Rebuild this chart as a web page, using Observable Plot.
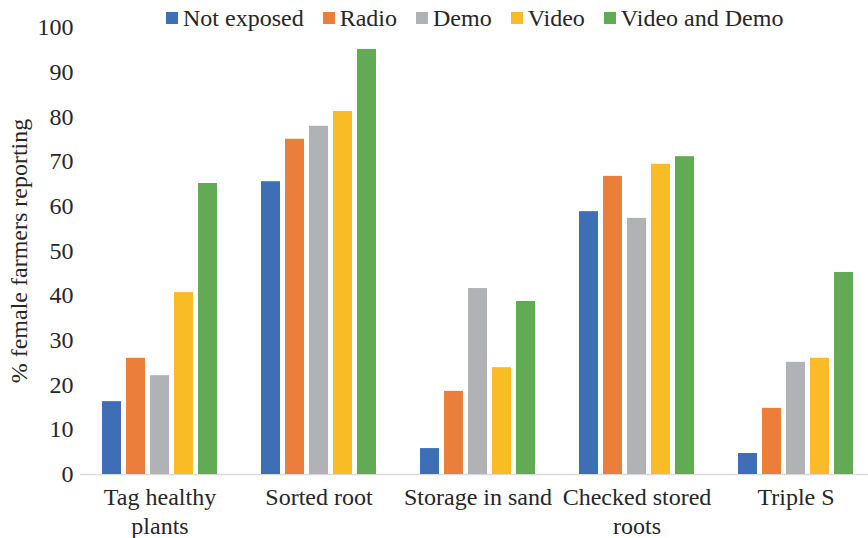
<!DOCTYPE html>
<html><head><meta charset="utf-8">
<script src="https://cdn.jsdelivr.net/npm/d3@7"></script>
<script src="https://cdn.jsdelivr.net/npm/@observablehq/plot@0.6"></script>
<style>
body{margin:0;background:#fff;}
#wrap{position:relative;width:868px;height:538px;font-family:"Liberation Serif","Times New Roman",serif;color:#262626;}
#legend{position:absolute;left:166px;top:6px;display:flex;align-items:center;font-size:24px;line-height:24px;white-space:nowrap;z-index:2;}
.item{display:flex;align-items:center;margin-right:19px;}
.sw{width:12px;height:12px;margin-right:5px;}
</style></head><body><div id="wrap"><div id="legend"></div></div>
<script>
const categories = ["Tag healthy plants", "Sorted root", "Storage in sand", "Checked stored roots", "Triple S"];
const categoryLabels = ["Tag healthy\nplants", "Sorted root", "Storage in sand", "Checked stored\nroots", "Triple S"];
const series = ["Not exposed", "Radio", "Demo", "Video", "Video and Demo"];
const notExposed = [16.3, 65.5, 5.8, 58.8, 4.7];
const radio = [26.0, 75.0, 18.6, 66.7, 14.8];
const demo = [22.1, 77.9, 41.6, 57.3, 25.1];
const video = [40.7, 81.2, 23.9, 69.4, 26.0];
const videoAndDemo = [65.1, 95.1, 38.7, 71.1, 45.2];
const colors = ["#3e6fb6", "#ec7e3b", "#b1b2b5", "#f9bc26", "#62aa53"];
const yTicks = [0, 10, 20, 30, 40, 50, 60, 70, 80, 90, 100];

const seriesValues = [notExposed, radio, demo, video, videoAndDemo];
const rows = categories.flatMap((c, i) => series.map((s, j) => ({category: c, series: s, value: seriesValues[j][i]})));

const chart = Plot.plot({
  width: 868, height: 538,
  marginLeft: 79, marginRight: -7, marginTop: 27, marginBottom: 64,
  style: {fontFamily: '"Liberation Serif","Times New Roman",serif', fontSize: "24px", color: "#262626", background: "#fff"},
  fx: {domain: categories, padding: 0, label: null, axis: null},
  x: {domain: series, paddingInner: 0.224, paddingOuter: 0.857, axis: null},
  y: {domain: [0, 100], label: null, axis: null},
  color: {domain: series, range: colors},
  marks: [
    Plot.ruleY([0], {stroke: "#d9d9d9", strokeWidth: 1.5}),
    Plot.barY(rows, {fx: "category", x: "series", y: "value", fill: "series"}),
    Plot.axisY({ticks: yTicks, tickSize: 0, tickPadding: 7, fontSize: 24, fontFamily: '"Liberation Serif",serif', label: "% female farmers reporting", labelArrow: "none", labelAnchor: "center", labelOffset: 71}),
    Plot.axisFx({anchor: "bottom", tickSize: 0, tickPadding: 11, fontSize: 24, fontFamily: '"Liberation Serif",serif', lineHeight: 1.17, label: null, tickFormat: c => categoryLabels[categories.indexOf(c)]})
  ]
});
document.getElementById("wrap").appendChild(chart);

const legend = document.getElementById("legend");
series.forEach((s, i) => {
  const item = document.createElement("div");
  item.className = "item";
  const sw = document.createElement("div");
  sw.className = "sw";
  sw.style.background = colors[i];
  const t = document.createElement("span");
  t.textContent = s;
  item.appendChild(sw); item.appendChild(t);
  legend.appendChild(item);
});
</script></body></html>
